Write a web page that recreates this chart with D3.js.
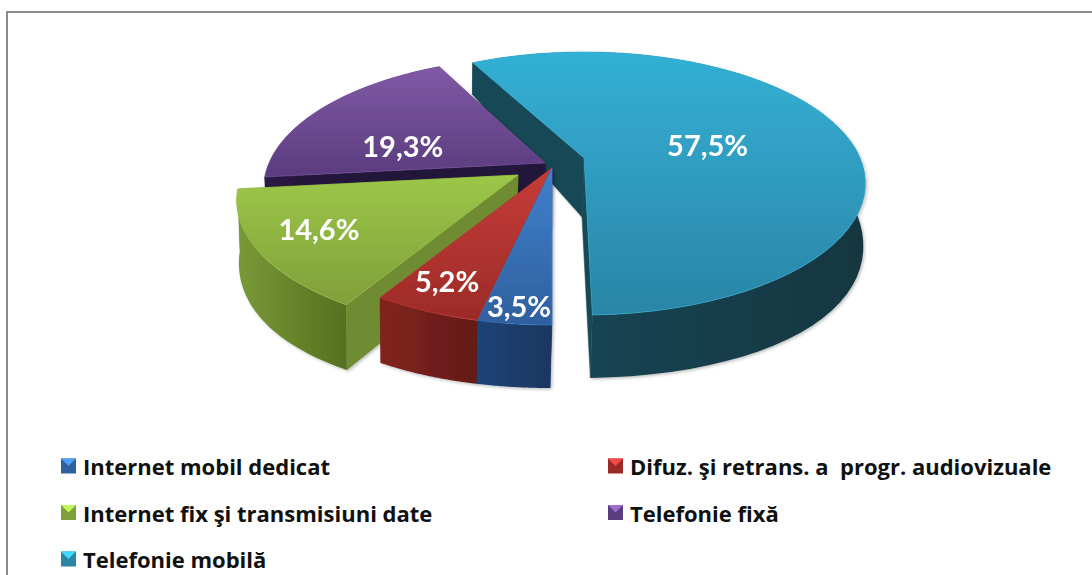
<!DOCTYPE html>
<html><head><meta charset="utf-8">
<script src="https://cdnjs.cloudflare.com/ajax/libs/d3/7.8.5/d3.min.js"></script>
<style>html,body{margin:0;padding:0;background:#fff;overflow:hidden}svg{display:block}text{white-space:pre}</style>
</head><body><svg id="c" width="1092" height="575"></svg>
<script>
const categories=["Internet mobil dedicat","Difuz. şi retrans. a  progr. audiovizuale","Internet fix şi transmisiuni date","Telefonie fixă","Telefonie mobilă"];
const values=[3.5,5.2,14.6,19.3,57.5];
const valueLabels=["3,5%","5,2%","14,6%","19,3%","57,5%"];
const topLight=["#4080cc","#c63c38","#9cc748","#8059a6","#33b0d5"];
const topDark=["#2f609e","#9c2b28","#7f9f3a","#5b3c7e","#2a85a6"];
const wallLight=["#1f4477","#82231f","#7a9a38","#2c1a44","#174a5a"];
const wallDark=["#1a365f","#631b18","#55701f","#23143a","#123640"];
const sideColor=["#1d3f70","#7a211e","#6f8c30","#24143a","#174855"];
const explodeX=[0,0,-34,-7,32];
const explodeY=[9,9,16,4,-1];
const sliceTilt=[0,0,0,0,-1.4];
const labelRadius=[.9,.86,.785,.62,.47];
const labelDy=[0,-7,-5,18,0];
const drawOrder=[4,3,2,1,0];

const svg=d3.select("#c"), defs=svg.append("defs");
const cx=552,cy=159;
const upper={a:126.6,b:276,k:.194}, lower={a:148.6,k:.077,dx:-2,dy:59,bxLeft:.985,bxRight:1};
function projTop(t,r,o){const z=-Math.cos(t)*r,w=1/(1-upper.k*z);
  return [o[0]+upper.b*Math.sin(t)*r*w,o[1]+upper.a*z*w];}
function projBot(t,r,o){const z=-Math.cos(t)*r,w=1/(1-upper.k*z),w2=1/(1-lower.k*z),s=Math.sin(t);
  return [o[0]+lower.dx+(s<0?lower.bxLeft:lower.bxRight)*upper.b*s*r*w,o[1]+lower.dy+lower.a*z*w2];}
const line=d3.line();
const pie=d3.pie().sort(null).startAngle(Math.PI).endAngle(3*Math.PI);
const arcs=pie(values);

function grad(id,c1,c2,x2,y2){const g=defs.append("linearGradient").attr("id",id)
  .attr("x1",0).attr("y1",0).attr("x2",x2).attr("y2",y2);
  g.append("stop").attr("offset",0).attr("stop-color",c1);
  g.append("stop").attr("offset",1).attr("stop-color",c2);}
const blurF=defs.append("filter").attr("id","sh").attr("x","-10%").attr("y","-10%").attr("width","120%").attr("height","125%");
blurF.append("feDropShadow").attr("dx",1.5).attr("dy",1.5).attr("stdDeviation",1.5).attr("flood-color","#000").attr("flood-opacity",.25);
const soft=defs.append("filter").attr("id","soft"); soft.append("feGaussianBlur").attr("stdDeviation",.45);

const border=svg.append("g").attr("fill","none").attr("stroke","#8c8c8c").attr("stroke-width",2);
border.append("path").attr("d","M7,575V12H1092");

const chart=svg.append("g").attr("filter","url(#soft)");
drawOrder.forEach(i=>{
  const d=arcs[i],o=[cx+explodeX[i],cy+explodeY[i]],tilt=sliceTilt[i]*Math.PI/180;
  const a0=d.startAngle+tilt,a1=d.endAngle+tilt;
  grad("t"+i,topLight[i],topDark[i],0,1);
  grad("w"+i,wallLight[i],wallDark[i],1,0);
  const ts=d3.range(0,61).map(s=>a0+(a1-a0)*s/60);
  const g=chart.append("g").attr("filter","url(#sh)");
  const apexT=o,apexB=projBot(0,0,o);
  [a0,a1].forEach(t=>{
    g.append("path").attr("fill",sideColor[i]).attr("stroke",sideColor[i]).attr("stroke-width",.5)
     .attr("d",line([apexT,projTop(t,1,o),projBot(t,1,o),apexB])+"Z");
  });
  g.append("path").attr("fill",`url(#w${i})`)
   .attr("d",line(ts.map(t=>projTop(t,1,o)).concat(ts.slice().reverse().map(t=>projBot(t,1,o))))+"Z");
  g.append("path").attr("fill",`url(#t${i})`)
   .attr("stroke",topLight[i]).attr("stroke-width",.6)
   .attr("d",line([apexT].concat(ts.map(t=>projTop(t,1,o))))+"Z");
});
arcs.forEach((d,i)=>{
  const o=[cx+explodeX[i],cy+explodeY[i]],m=(d.startAngle+d.endAngle)/2,p=projTop(m,labelRadius[i],o);
  svg.append("text").attr("x",p[0]).attr("y",p[1]+labelDy[i]).attr("text-anchor","middle")
   .attr("dominant-baseline","central").attr("fill","#fff")
   .attr("font-family","Lato").attr("font-weight",700).attr("font-size",29).text(valueLabels[i]);
});
const legX=d3.scaleOrdinal().domain([0,1]).range([61,608]);
const legY=d3.scalePoint().domain([0,1,2]).range([466,559]);
categories.forEach((c,i)=>{
  const x=legX(i%2),y=legY(Math.floor(i/2)),s=15;
  const g=svg.append("g").attr("transform",`translate(${x},${y})`);
  g.append("rect").attr("x",0).attr("y",-s/2).attr("width",s).attr("height",s).attr("fill",topDark[i]);
  g.append("path").attr("d",line([[0,-s/2],[s,-s/2],[s/2,0]])+"Z").attr("fill",d3.color(topLight[i]).brighter(.6));
  g.append("text").attr("x",22).attr("y",0).attr("dominant-baseline","central")
   .attr("font-family","'Open Sans'").attr("font-weight",700).attr("font-size",22).attr("fill","#111").text(c);
});
</script></body></html>
